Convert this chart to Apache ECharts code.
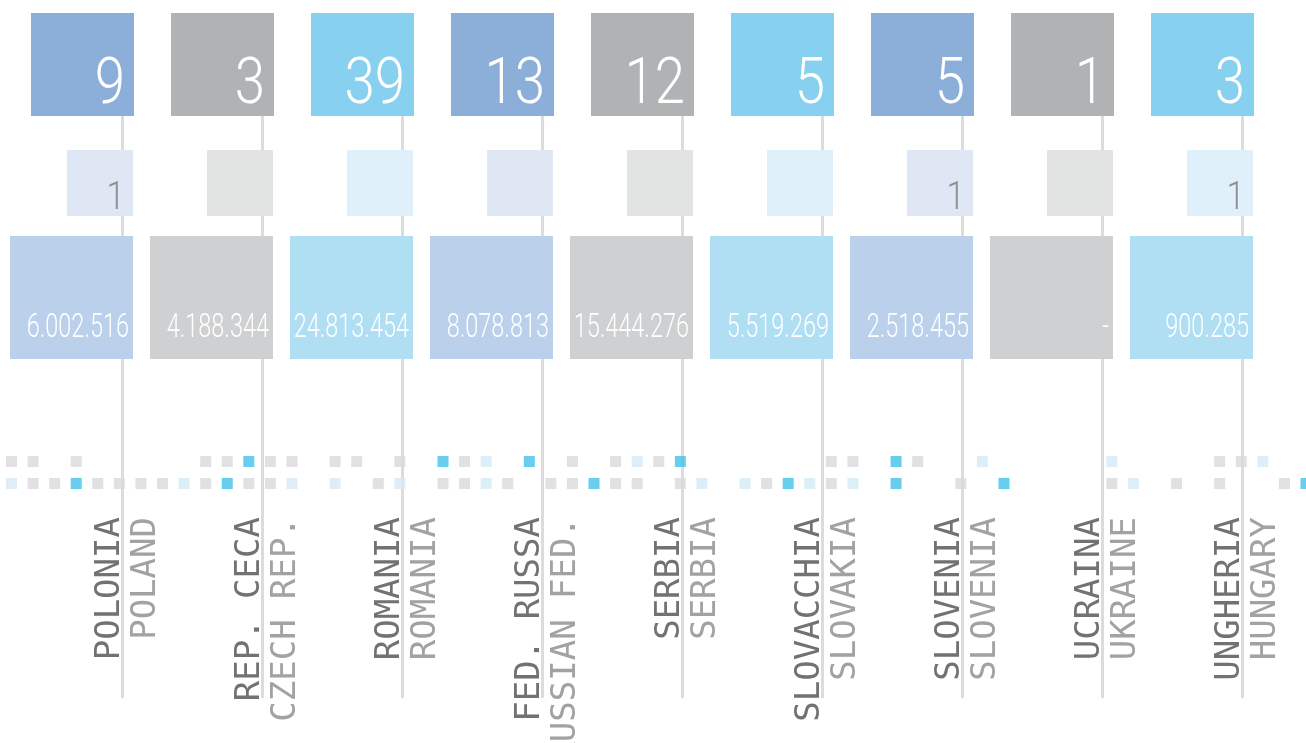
<!DOCTYPE html>
<html>
<head>
<meta charset="utf-8">
<script src="https://cdn.jsdelivr.net/npm/echarts@6/dist/echarts.min.js"></script>
<style>
  html, body { margin: 0; padding: 0; background: #fff; }
  #chart { width: 1306px; height: 743px; }
</style>
</head>
<body>
<div id="chart"></div>
<script>
  const countriesIt = ['POLONIA', 'REP. CECA', 'ROMANIA', 'FED. RUSSA', 'SERBIA', 'SLOVACCHIA', 'SLOVENIA', 'UCRAINA', 'UNGHERIA']
  const countriesEn = ['POLAND', 'CZECH REP.', 'ROMANIA', 'RUSSIAN FED.', 'SERBIA', 'SLOVAKIA', 'SLOVENIA', 'UKRAINE', 'HUNGARY']
  const topCounts = [9, 3, 39, 13, 12, 5, 5, 1, 3]
  const smallCounts = [1, null, null, null, null, null, 1, null, 1]
  const amounts = [6002516, 4188344, 24813454, 8078813, 15444276, 5519269, 2518455, null, 900285]

  // 0 = empty, 1 = grey, 2 = light blue, 3 = blue
  const dotRowTop = [1, 1, 0, 1, 0, 0, 0, 0, 0, 1, 1, 3, 1, 1, 0, 1, 1, 0, 1, 0, 3, 1, 2, 0, 3, 0, 1, 0, 1, 2,
    1, 3, 0, 0, 0, 0, 0, 0, 1, 1, 0, 3, 1, 0, 0, 2, 0, 0, 0, 0, 0, 2, 0, 0, 0, 0, 1, 1, 2, 0, 0]
  const dotRowBottom = [2, 1, 1, 3, 1, 1, 1, 1, 2, 1, 3, 1, 1, 2, 0, 2, 0, 1, 2, 0, 1, 1, 2, 1, 0, 1, 1, 3, 1, 1,
    0, 1, 2, 0, 2, 1, 3, 2, 1, 2, 0, 3, 0, 0, 1, 0, 3, 0, 0, 0, 0, 1, 2, 0, 1, 0, 1, 0, 0, 1, 3]

  const topColors = ['#8cafda', '#b1b2b4', '#87d0f0']
  const midColors = ['#dfe7f4', '#e2e4e4', '#dff0fa']
  const lowColors = ['#bbd0ea', '#cfd0d2', '#b0dff4']
  const dotColors = {1: '#d9dadc', 2: '#d4eaf8', 3: '#42c1ea'}

  const NUM_FONT = 'Roboto, "Open Sans", sans-serif'
  const LABEL_FONT = '"DejaVu Sans Mono", monospace'

  function fmt(n) {
    if (n === null) return '-'
    return String(n).replace(/\B(?=(\d{3})+(?!\d))/g, '.')
  }

  function dotsOf(code) {
    const out = []
    dotRowTop.forEach((c, i) => { if (c === code) out.push([i, 0]) })
    dotRowBottom.forEach((c, i) => { if (c === code) out.push([i, 1]) })
    return out
  }

  function renderColumn(params, api) {
    const i = api.value(0)
    const x = api.coord([i, 0])[0]
    const y = v => api.coord([i, v])[1]
    const c = i % 3
    const kids = [
      {type: 'line', shape: {x1: x + 0.5, y1: y(116), x2: x + 0.5, y2: y(698)},
        style: {stroke: '#dcdcdc', lineWidth: 3}},
      // count box
      {type: 'rect', shape: {x: x - 91, y: y(13), width: 103, height: 103}, style: {fill: topColors[c]}},
      {type: 'text', x: x + 3, y: y(87), scaleX: 0.84,
        style: {text: String(topCounts[i]), fill: '#fff', fontFamily: NUM_FONT, fontWeight: 300, fontSize: 65,
          align: 'right', verticalAlign: 'middle'}},
      // small box
      {type: 'rect', shape: {x: x - 55, y: y(150), width: 66, height: 66}, style: {fill: midColors[c]}},
      // amount box
      {type: 'rect', shape: {x: x - 112, y: y(236), width: 123, height: 123}, style: {fill: lowColors[c]}},
      {type: 'text', x: x + 7, y: y(328), scaleX: 0.69,
        style: {text: fmt(amounts[i]), fill: '#fff', fontFamily: NUM_FONT, fontWeight: 300, fontSize: 34,
          align: 'right', verticalAlign: 'middle'}},
      // labels
      {type: 'text', x: x - 12, y: y(517), rotation: Math.PI / 2,
        style: {text: countriesIt[i], fill: '#727272', fontFamily: LABEL_FONT, fontSize: 34,
          align: 'right', verticalAlign: 'middle'}},
      {type: 'text', x: x + 24.5, y: y(517), rotation: Math.PI / 2,
        style: {text: countriesEn[i], fill: '#a2a2a2', fontFamily: LABEL_FONT, fontSize: 34,
          align: 'right', verticalAlign: 'middle'}}
    ]
    if (smallCounts[i] !== null) {
      kids.push({type: 'text', x: x + 3, y: y(199), scaleX: 0.85,
        style: {text: String(smallCounts[i]), fill: '#8f8f8f', fontFamily: NUM_FONT, fontWeight: 300, fontSize: 39,
          align: 'right', verticalAlign: 'middle'}})
    }
    return {type: 'group', children: kids}
  }

  const chart = echarts.init(document.getElementById('chart'))
  chart.setOption({
    animation: false,
    grid: [
      {left: 122, top: 0, width: 1120, height: 743},
      {left: 11.5, top: 461.5, width: 1296, height: 22}
    ],
    xAxis: [
      {type: 'category', gridIndex: 0, data: countriesIt, boundaryGap: false, show: false},
      {type: 'value', gridIndex: 1, min: 0, max: 60, show: false}
    ],
    yAxis: [
      {type: 'value', gridIndex: 0, min: 0, max: 743, inverse: true, show: false},
      {type: 'value', gridIndex: 1, min: 0, max: 1, inverse: true, show: false}
    ],
    series: [
      {type: 'scatter', xAxisIndex: 1, yAxisIndex: 1, symbol: 'rect', symbolSize: 11,
        itemStyle: {color: dotColors[1]}, data: dotsOf(1), silent: true},
      {type: 'scatter', xAxisIndex: 1, yAxisIndex: 1, symbol: 'rect', symbolSize: 11,
        itemStyle: {color: dotColors[2]}, data: dotsOf(2), silent: true},
      {type: 'scatter', xAxisIndex: 1, yAxisIndex: 1, symbol: 'rect', symbolSize: 11,
        itemStyle: {color: dotColors[3]}, data: dotsOf(3), silent: true},
      {type: 'custom', xAxisIndex: 0, yAxisIndex: 0, renderItem: renderColumn,
        data: countriesIt.map((_, i) => [i]), silent: true, clip: false}
    ]
  })
</script>
</body>
</html>
